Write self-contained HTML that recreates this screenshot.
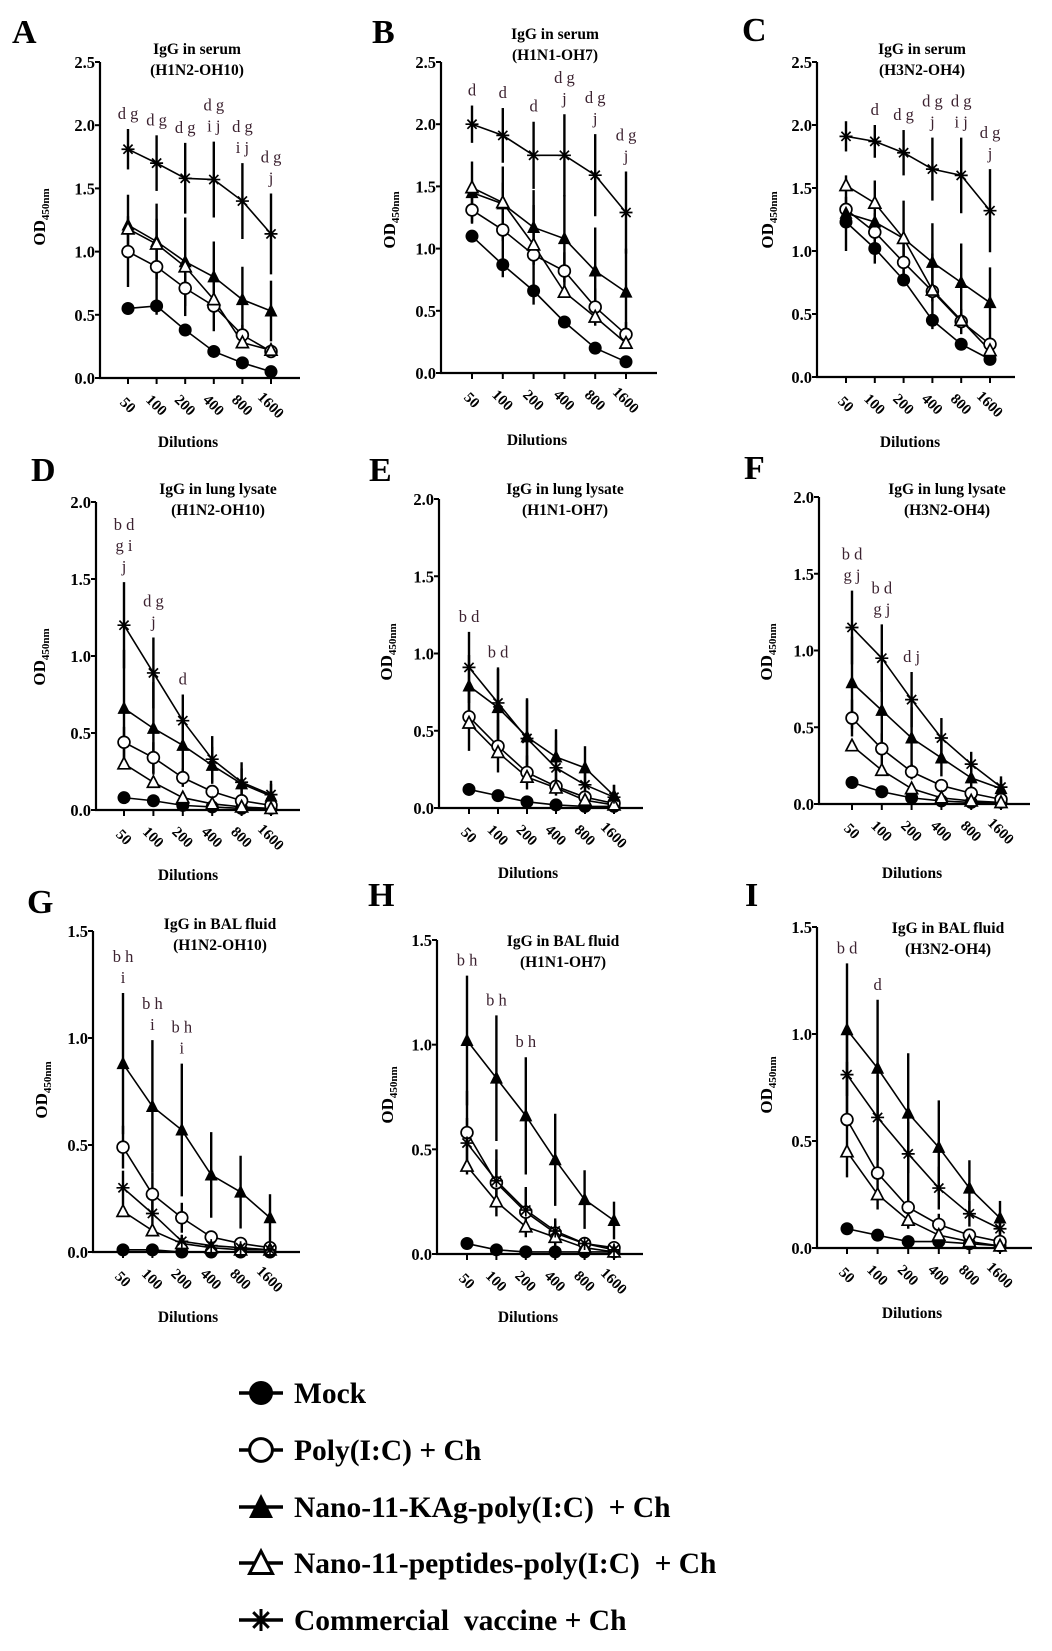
<!DOCTYPE html>
<html><head><meta charset="utf-8"><style>
html,body{margin:0;padding:0;background:#fff;}
svg{display:block;}
text{font-family:"Liberation Serif",serif;}
</style></head><body>
<svg id="fig" width="1052" height="1651" viewBox="0 0 1052 1651" xmlns="http://www.w3.org/2000/svg"></svg>
<script>
const dilutions = ["50","100","200","400","800","1600"];
const seriesNames = ["Mock","Poly(I:C) + Ch","Nano-11-KAg-poly(I:C)  + Ch","Nano-11-peptides-poly(I:C)  + Ch","Commercial  vaccine + Ch"];

// Panel A
const A_mock=[0.55,0.57,0.38,0.21,0.12,0.05];
const A_poly=[1.00,0.88,0.71,0.57,0.34,0.21];
const A_kag=[1.21,1.08,0.92,0.80,0.62,0.53];
const A_pep=[1.18,1.06,0.88,0.62,0.28,0.22];
const A_comm=[1.81,1.70,1.58,1.57,1.40,1.14];
const A_kagErr=[0.24,0.30,0.35,0.28,0.26,0.24];
const A_commErr=[0.16,0.22,0.28,0.30,0.30,0.32];
const A_polyErr=[0.28,0.38,0.22,0.20,0.08,0.04];
const A_ann=[["d g"],["d g"],["d g"],["d g","i j"],["d g","i j"],["d g","j"]];
// Panel B
const B_mock=[1.10,0.87,0.66,0.41,0.20,0.09];
const B_poly=[1.31,1.15,0.95,0.82,0.53,0.31];
const B_kag=[1.45,1.36,1.17,1.08,0.82,0.65];
const B_pep=[1.49,1.37,1.03,0.65,0.45,0.24];
const B_comm=[2.00,1.91,1.75,1.75,1.59,1.29];
const B_kagErr=[0.25,0.30,0.30,0.35,0.35,0.35];
const B_commErr=[0.15,0.22,0.27,0.33,0.33,0.33];
const B_polyErr=[0.10,0.38,0.40,0.15,0.15,0.10];
const B_ann=[["d"],["d"],["d"],["d g","j"],["d g","j"],["d g","j"]];
// Panel C
const C_mock=[1.23,1.02,0.77,0.45,0.26,0.14];
const C_poly=[1.33,1.15,0.91,0.68,0.44,0.26];
const C_kag=[1.30,1.23,1.10,0.91,0.75,0.59];
const C_pep=[1.52,1.38,1.10,0.69,0.45,0.21];
const C_comm=[1.91,1.87,1.78,1.65,1.60,1.32];
const C_kagErr=[0.30,0.33,0.30,0.31,0.31,0.28];
const C_commErr=[0.12,0.13,0.18,0.25,0.30,0.33];
const C_polyErr=[0.10,0.15,0.14,0.30,0.10,0.05];
const C_ann=[[],["d"],["d g"],["d g","j"],["d g","i j"],["d g","j"]];
// Panel D
const D_mock=[0.08,0.06,0.03,0.02,0.01,0.01];
const D_poly=[0.44,0.34,0.21,0.12,0.06,0.03];
const D_kag=[0.66,0.53,0.42,0.29,0.17,0.09];
const D_pep=[0.30,0.18,0.08,0.04,0.02,0.01];
const D_comm=[1.20,0.89,0.58,0.33,0.18,0.10];
const D_kagErr=[0.38,0.30,0.20,0.12,0.10,0.08];
const D_commErr=[0.28,0.23,0.17,0.15,0.13,0.09];
const D_polyErr=[0.10,0.10,0.06,0.04,0.03,0.02];
const D_ann=[["b d","g i","j"],["d g","j"],["d"],[],[],[]];
// Panel E
const E_mock=[0.12,0.08,0.04,0.02,0.01,0.01];
const E_poly=[0.59,0.40,0.23,0.14,0.07,0.03];
const E_kag=[0.79,0.65,0.46,0.33,0.26,0.08];
const E_pep=[0.55,0.36,0.20,0.13,0.05,0.02];
const E_comm=[0.91,0.68,0.45,0.26,0.15,0.07];
const E_kagErr=[0.20,0.25,0.25,0.18,0.14,0.07];
const E_commErr=[0.23,0.23,0.25,0.18,0.13,0.08];
const E_polyErr=[0.22,0.17,0.11,0.05,0.03,0.02];
const E_ann=[["b d"],["b d"],[],[],[],[]];
// Panel F
const F_mock=[0.14,0.08,0.04,0.02,0.01,0.01];
const F_poly=[0.56,0.36,0.21,0.12,0.07,0.03];
const F_kag=[0.79,0.61,0.43,0.30,0.17,0.10];
const F_pep=[0.38,0.22,0.10,0.04,0.02,0.01];
const F_comm=[1.15,0.95,0.68,0.43,0.26,0.11];
const F_kagErr=[0.30,0.30,0.20,0.12,0.08,0.06];
const F_commErr=[0.24,0.22,0.18,0.13,0.08,0.07];
const F_polyErr=[0.12,0.10,0.05,0.04,0.02,0.02];
const F_ann=[["b d","g j"],["b d","g j"],["d j"],[],[],[]];
// Panel G
const G_mock=[0.01,0.01,0.00,0.00,0.00,0.00];
const G_poly=[0.49,0.27,0.16,0.07,0.04,0.02];
const G_kag=[0.88,0.68,0.57,0.36,0.28,0.16];
const G_pep=[0.19,0.10,0.04,0.02,0.01,0.01];
const G_comm=[0.30,0.18,0.05,0.03,0.02,0.01];
const G_kagErr=[0.33,0.31,0.31,0.20,0.17,0.11];
const G_commErr=[0.08,0.06,0.03,0.02,0.01,0.01];
const G_polyErr=[0.10,0.10,0.07,0.03,0.02,0.01];
const G_ann=[["b h","i"],["b h","i"],["b h","i"],[],[],[]];
// Panel H
const H_mock=[0.05,0.02,0.01,0.01,0.01,0.01];
const H_poly=[0.58,0.34,0.20,0.10,0.05,0.03];
const H_kag=[1.02,0.84,0.66,0.45,0.26,0.16];
const H_pep=[0.42,0.25,0.13,0.08,0.03,0.01];
const H_comm=[0.53,0.35,0.21,0.11,0.05,0.02];
const H_kagErr=[0.31,0.30,0.28,0.22,0.14,0.09];
const H_commErr=[0.12,0.10,0.10,0.06,0.03,0.02];
const H_polyErr=[0.20,0.16,0.12,0.06,0.03,0.02];
const H_ann=[["b h"],["b h"],["b h"],[],[],[]];
// Panel I
const I_mock=[0.09,0.06,0.03,0.03,0.02,0.01];
const I_poly=[0.60,0.35,0.19,0.11,0.06,0.03];
const I_kag=[1.02,0.84,0.63,0.47,0.28,0.14];
const I_pep=[0.45,0.25,0.13,0.06,0.03,0.01];
const I_comm=[0.81,0.61,0.44,0.28,0.16,0.09];
const I_kagErr=[0.31,0.32,0.28,0.22,0.13,0.08];
const I_commErr=[0.20,0.20,0.15,0.10,0.06,0.04];
const I_polyErr=[0.27,0.17,0.10,0.05,0.03,0.02];
const I_ann=[["b d"],["d"],[],[],[],[]];

const yTicksA=["0.0","0.5","1.0","1.5","2.0","2.5"];
const yTicksB=["0.0","0.5","1.0","1.5","2.0"];
const yTicksC=["0.0","0.5","1.0","1.5"];

const NS="http://www.w3.org/2000/svg";
const svg=document.getElementById('fig');
function mk(tag,attrs,parent){const e=document.createElementNS(NS,tag);for(const k in attrs)e.setAttribute(k,attrs[k]);(parent||svg).appendChild(e);return e;}

const panels=[
 {id:"A",ax:100,y0:378,yt:62,x1:128,x2:271,xe:300,max:2.5,ticks:yTicksA,t1:"IgG in serum",t2:"(H1N2-OH10)",tx:197,ty:54,lx:12,ly:43,ylx:45,yly:217,dx:188,dy:447,
  d:[A_mock,A_poly,A_kag,A_pep,A_comm],e:[A_polyErr,A_kagErr,A_commErr],ann:A_ann},
 {id:"B",ax:441,y0:373,yt:62,x1:472,x2:626,xe:657,max:2.5,ticks:yTicksA,t1:"IgG in serum",t2:"(H1N1-OH7)",tx:555,ty:39,lx:372,ly:43,ylx:395,yly:220,dx:537,dy:445,
  d:[B_mock,B_poly,B_kag,B_pep,B_comm],e:[B_polyErr,B_kagErr,B_commErr],ann:B_ann},
 {id:"C",ax:817,y0:377,yt:62,x1:846,x2:990,xe:1015,max:2.5,ticks:yTicksA,t1:"IgG in serum",t2:"(H3N2-OH4)",tx:922,ty:54,lx:742,ly:41,ylx:773,yly:220,dx:910,dy:447,
  d:[C_mock,C_poly,C_kag,C_pep,C_comm],e:[C_polyErr,C_kagErr,C_commErr],ann:C_ann},
 {id:"D",ax:96,y0:810,yt:502,x1:124,x2:271,xe:300,max:2.0,ticks:yTicksB,t1:"IgG in lung lysate",t2:"(H1N2-OH10)",tx:218,ty:494,lx:31,ly:481,ylx:45,yly:657,dx:188,dy:880,
  d:[D_mock,D_poly,D_kag,D_pep,D_comm],e:[D_polyErr,D_kagErr,D_commErr],ann:D_ann},
 {id:"E",ax:439,y0:808,yt:499,x1:469,x2:614,xe:643,max:2.0,ticks:yTicksB,t1:"IgG in lung lysate",t2:"(H1N1-OH7)",tx:565,ty:494,lx:369,ly:481,ylx:392,yly:652,dx:528,dy:878,
  d:[E_mock,E_poly,E_kag,E_pep,E_comm],e:[E_polyErr,E_kagErr,E_commErr],ann:E_ann},
 {id:"F",ax:819,y0:804,yt:497,x1:852,x2:1001,xe:1030,max:2.0,ticks:yTicksB,t1:"IgG in lung lysate",t2:"(H3N2-OH4)",tx:947,ty:494,lx:744,ly:479,ylx:772,yly:652,dx:912,dy:878,
  d:[F_mock,F_poly,F_kag,F_pep,F_comm],e:[F_polyErr,F_kagErr,F_commErr],ann:F_ann},
 {id:"G",ax:93,y0:1252,yt:931,x1:123,x2:270,xe:300,max:1.5,ticks:yTicksC,t1:"IgG in BAL fluid",t2:"(H1N2-OH10)",tx:220,ty:929,lx:27,ly:913,ylx:47,yly:1090,dx:188,dy:1322,
  d:[G_mock,G_poly,G_kag,G_pep,G_comm],e:[G_polyErr,G_kagErr,G_commErr],ann:G_ann},
 {id:"H",ax:437,y0:1254,yt:940,x1:467,x2:614,xe:643,max:1.5,ticks:yTicksC,t1:"IgG in BAL fluid",t2:"(H1N1-OH7)",tx:563,ty:946,lx:368,ly:906,ylx:393,yly:1095,dx:528,dy:1322,
  d:[H_mock,H_poly,H_kag,H_pep,H_comm],e:[H_polyErr,H_kagErr,H_commErr],ann:H_ann},
 {id:"I",ax:817,y0:1248,yt:927,x1:847,x2:1000,xe:1032,max:1.5,ticks:yTicksC,t1:"IgG in BAL fluid",t2:"(H3N2-OH4)",tx:948,ty:933,lx:745,ly:906,ylx:772,yly:1085,dx:912,dy:1318,
  d:[I_mock,I_poly,I_kag,I_pep,I_comm],e:[I_polyErr,I_kagErr,I_commErr],ann:I_ann}
];
const kinds=["fcircle","ocircle","ftri","otri","star"];
const keyNames=["mock","poly-ic","nano-kag","nano-peptides","commercial-vaccine"];

function marker(kind,x,y,g,s,sw){
  s=s||6; sw=sw||1.6;
  if(kind==="fcircle") return mk('circle',{cx:x,cy:y,r:s,fill:'#000'},g);
  if(kind==="ocircle") return mk('circle',{cx:x,cy:y,r:s-0.6,fill:'#fff',stroke:'#000','stroke-width':sw},g);
  if(kind==="ftri") return mk('polygon',{points:`${x},${y-s-1} ${x-s},${y+s-1} ${x+s},${y+s-1}`,fill:'#000'},g);
  if(kind==="otri") return mk('polygon',{points:`${x},${y-s} ${x-s+0.5},${y+s-1.5} ${x+s-0.5},${y+s-1.5}`,fill:'#fff',stroke:'#000','stroke-width':sw},g);
  const p=[];for(let a=0;a<4;a++){const t=a*Math.PI/4;p.push(`M${x-Math.cos(t)*s},${y-Math.sin(t)*s}L${x+Math.cos(t)*s},${y+Math.sin(t)*s}`);}
  mk('path',{d:p.join(''),stroke:'#000','stroke-width':sw,fill:'none'},g);
}

panels.forEach(P=>{
  const g=mk('g',{});
  
  
  const yS=v=>P.y0-v/P.max*(P.y0-P.yt);
  const xS=i=>P.x1+i*(P.x2-P.x1)/(dilutions.length-1);
  const L=mk('text',{x:P.lx,y:P.ly,'font-size':34,'font-weight':'bold'},g);L.textContent=P.id;
  
  
  const t1=mk('text',{x:P.tx,y:P.ty,'font-size':15.5,'font-weight':'bold','text-anchor':'middle'},g);t1.textContent=P.t1;
  
  
  const t2=mk('text',{x:P.tx,y:P.ty+21,'font-size':15.5,'font-weight':'bold','text-anchor':'middle'},g);t2.textContent=P.t2;
  
  
  const ya=mk('line',{x1:P.ax,y1:P.yt,x2:P.ax,y2:P.y0,stroke:'#000','stroke-width':2.2},g);
  
  
  const xa=mk('line',{x1:P.ax-1,y1:P.y0,x2:P.xe,y2:P.y0,stroke:'#000','stroke-width':2.2},g);
  
  
  P.ticks.forEach(tk=>{
    const yy=yS(parseFloat(tk));
    mk('line',{x1:P.ax-5,y1:yy,x2:P.ax,y2:yy,stroke:'#000','stroke-width':2},g);
    const t=mk('text',{x:P.ax-5,y:yy+6,'font-size':16.5,'font-weight':'bold','text-anchor':'end'},g);t.textContent=tk;
    
    
  });
  dilutions.forEach((d,i)=>{
    const xx=xS(i);
    mk('line',{x1:xx,y1:P.y0,x2:xx,y2:P.y0+6,stroke:'#000','stroke-width':2},g);
    const cy=P.y0+27;
    const t=mk('text',{x:xx,y:cy+5,'font-size':15,'font-weight':'bold','text-anchor':'middle',transform:`rotate(45 ${xx} ${cy})`},g);t.textContent=d;
    
    
  });
  const yl=mk('text',{x:P.ylx,y:P.yly,'font-size':17,'font-weight':'bold','text-anchor':'middle',transform:`rotate(-90 ${P.ylx} ${P.yly})`},g);
  yl.innerHTML='OD<tspan font-size="11" dy="4">450nm</tspan>';
  
  
  const dl=mk('text',{x:P.dx,y:P.dy,'font-size':15.5,'font-weight':'bold','text-anchor':'middle'},g);dl.textContent='Dilutions';
  
  
  const errIdx=[1,2,4];
  const tops=dilutions.map(()=>P.y0);
  errIdx.forEach((si,k)=>{
    P.d[si].forEach((v,i)=>{
      const e=P.e[k][i];
      const ytop=yS(v+e), ybot=yS(Math.max(0,v-e));
      const b=mk('line',{x1:xS(i),y1:ytop,x2:xS(i),y2:ybot,stroke:'#000','stroke-width':2.4},g);
      
      
      tops[i]=Math.min(tops[i],ytop);
    });
  });
  P.d.forEach((arr,si)=>{
    const pts=arr.map((v,i)=>xS(i)+','+yS(v)).join(' ');
    const pl=mk('polyline',{points:pts,fill:'none',stroke:'#000','stroke-width':1.6},g);
    
    
  });
  P.d.forEach((arr,si)=>{
    arr.forEach((v,i)=>{
      const mg=mk('g',{},g);
      
      
      marker(kinds[si],xS(i),yS(v),mg,6.5,1.7);
    });
  });
  P.ann.forEach((lines,i)=>{
    const n=lines.length;
    lines.forEach((ln,j)=>{
      const t=mk('text',{x:xS(i),y:tops[i]-10-(n-1-j)*21,'font-size':16.5,'text-anchor':'middle',fill:'#3c2230'},g);
      t.textContent=ln;
      
      
    });
  });
});

const lg=mk('g',{});


const legY=[1393,1450,1507,1563,1620];
seriesNames.forEach((nm,i)=>{
  const eg=mk('g',{},lg);
  
  
  mk('line',{x1:239,y1:legY[i],x2:283,y2:legY[i],stroke:'#000','stroke-width':3.5},eg);
  marker(kinds[i],261,legY[i],eg,kinds[i]==="star"?11:12,3);
  const t=mk('text',{x:294,y:legY[i]+10,'font-size':29.5,'font-weight':'bold'},eg);
  t.textContent=nm;
  t.setAttribute('xml:space','preserve');
  t.style.whiteSpace='pre';
});
</script>
</body></html>
